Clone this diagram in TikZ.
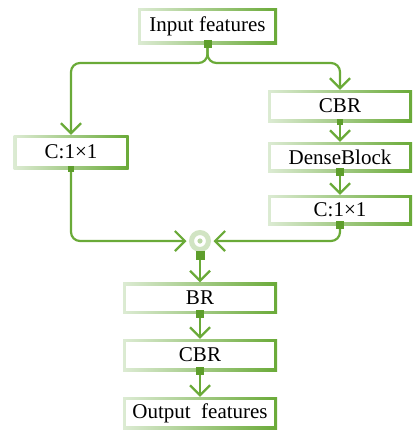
\documentclass[tikz,border=0pt]{standalone}
\usepackage{fontspec}
\setmainfont{Liberation Serif}
\usetikzlibrary{arrows.meta,calc}
\definecolor{gd}{HTML}{6AAA38}
\definecolor{gl}{HTML}{DCEBD3}
\definecolor{gs}{HTML}{5E9E2C}
\tikzset{
  box/.style={minimum width=#1, minimum height=32pt, inner sep=0pt,
    font=\fontsize{21}{25}\selectfont,
    path picture={
      \shade[left color=gl,right color=gd] (path picture bounding box.south west) rectangle (path picture bounding box.north east);
      \fill[white] ([shift={(3pt,3pt)}]path picture bounding box.south west) rectangle ([shift={(-3pt,-3pt)}]path picture bounding box.north east);
    }},
  line/.style={draw=gd, line width=2.2pt, rounded corners=9pt},
  arr/.style={line, -{Straight Barb[length=10pt,width=20pt]}},
  sq/.style={fill=gs, minimum size=#1, inner sep=0pt},
  sq/.default=8pt
}
\begin{document}
\begin{tikzpicture}[x=1pt,y=-1pt]
\useasboundingbox (0,0) rectangle (413,432);
\node[box=139pt, minimum height=36pt] (in) at (207.5,26) {Input features};
\node[box=115pt, minimum height=34pt] (c1L) at (71,152) {C:1\texttimes1};
\node[box=144pt] (cbr1) at (340,106) {CBR};
\node[box=144pt, minimum height=30pt] (dense) at (340,157) {DenseBlock};
\node[box=144pt, minimum height=30pt] (c1R) at (340,210) {C:1\texttimes1};
\node[box=154pt, minimum height=31pt] (br) at (200,298) {BR};
\node[box=154pt] (cbr2) at (200,355) {CBR};
\node[box=154pt] (out) at (200,413) {Output\ \ features};
% merge circle
\node[circle, draw=gl!90!gd, line width=5pt, fill=white, minimum size=17pt, inner sep=0pt] (m) at (200,241) {};
\fill[gl!70!gd] (m.center) circle (2.6pt);
\coordinate (split) at (207.5,63);
% connectors
\draw[arr] (in.south) |- (c1L.north |- split) -- (c1L.north);
\draw[arr] (in.south) |- (cbr1.north |- split) -- (cbr1.north);
\draw[arr] (cbr1.south) -- (dense.north);
\draw[arr] (dense.south) -- (c1R.north);
\draw[arr] (c1L.south) |- ($(m.west)+(-2.5,0)$);
\draw[arr] (c1R.south) |- ($(m.east)+(2.5,0)$);
\draw[arr] (m.south) -- (br.north);
\draw[arr] (br.south) -- (cbr2.north);
\draw[arr] (cbr2.south) -- (out.north);
% squares
\node[sq] (s1) at (in.south) {};
\node[sq=6pt] (s2) at (cbr1.south) {};
\node[sq] (s3) at (dense.south) {};
\node[sq] (s4) at (c1R.south) {};
\node[sq=6pt] (s5) at (c1L.south) {};
\node[sq=9pt] (s6) at ($(m.south)+(0,3)$) {};
\node[sq] (s7) at (br.south) {};
\node[sq] (s8) at (cbr2.south) {};
\end{tikzpicture}
\end{document}
